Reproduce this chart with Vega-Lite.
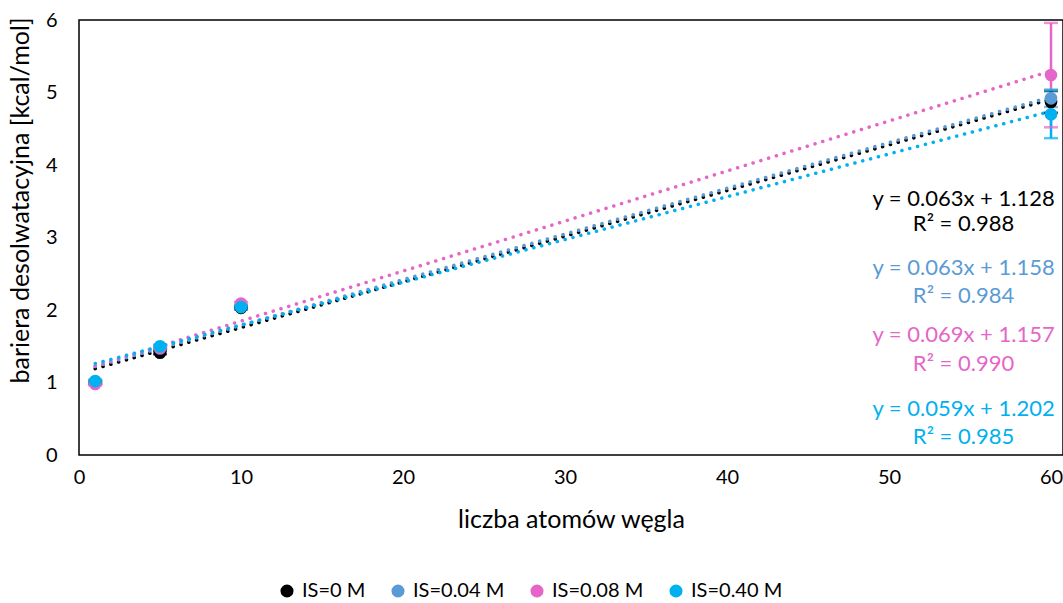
{
  "$schema": "https://vega.github.io/schema/vega-lite/v6.json",
  "width": 984,
  "height": 435,
  "autosize": {"type": "none"},
  "padding": {"left": 79, "top": 20, "right": 0, "bottom": 148},
  "background": "white",
  "config": {
    "view": {"stroke": "#000000", "strokeWidth": 1.5},
    "font": "Lato",
    "axis": {"grid": false, "ticks": false, "domain": false, "labelFont": "Lato", "titleFont": "Lato", "labelColor": "#000000", "titleColor": "#000000", "titleFontWeight": "normal"},
    "legend": {"labelFont": "Lato", "labelColor": "#000000"}
  },
  "datasets": {
    "pts": [
      {"series": "IS=0 M", "x": 1, "y": 1.0, "lo": 0.98, "hi": 1.02},
      {"series": "IS=0 M", "x": 5, "y": 1.41, "lo": 1.39, "hi": 1.43},
      {"series": "IS=0 M", "x": 10, "y": 2.03, "lo": 2.01, "hi": 2.05},
      {"series": "IS=0 M", "x": 60, "y": 4.87, "lo": 4.72, "hi": 5.02},
      {"series": "IS=0.04 M", "x": 1, "y": 1.0, "lo": 0.98, "hi": 1.02},
      {"series": "IS=0.04 M", "x": 5, "y": 1.47, "lo": 1.45, "hi": 1.49},
      {"series": "IS=0.04 M", "x": 10, "y": 2.05, "lo": 2.03, "hi": 2.07},
      {"series": "IS=0.04 M", "x": 60, "y": 4.92, "lo": 4.8, "hi": 5.04},
      {"series": "IS=0.08 M", "x": 1, "y": 0.98, "lo": 0.96, "hi": 1.0},
      {"series": "IS=0.08 M", "x": 5, "y": 1.48, "lo": 1.46, "hi": 1.5},
      {"series": "IS=0.08 M", "x": 10, "y": 2.09, "lo": 2.07, "hi": 2.11},
      {"series": "IS=0.08 M", "x": 60, "y": 5.24, "lo": 4.52, "hi": 5.96},
      {"series": "IS=0.40 M", "x": 1, "y": 1.02, "lo": 1.0, "hi": 1.04},
      {"series": "IS=0.40 M", "x": 5, "y": 1.5, "lo": 1.48, "hi": 1.52},
      {"series": "IS=0.40 M", "x": 10, "y": 2.04, "lo": 2.02, "hi": 2.06},
      {"series": "IS=0.40 M", "x": 60, "y": 4.7, "lo": 4.37, "hi": 5.03}
    ],
    "trend": [
      {"series": "IS=0 M", "x": 1, "y": 1.191},
      {"series": "IS=0 M", "x": 60, "y": 4.908},
      {"series": "IS=0.04 M", "x": 1, "y": 1.221},
      {"series": "IS=0.04 M", "x": 60, "y": 4.938},
      {"series": "IS=0.08 M", "x": 1, "y": 1.226},
      {"series": "IS=0.08 M", "x": 60, "y": 5.297},
      {"series": "IS=0.40 M", "x": 1, "y": 1.261},
      {"series": "IS=0.40 M", "x": 60, "y": 4.742}
    ],
    "labels": [
      {"series": "IS=0 M", "text": "y = 0.063x + 1.128", "x": 54.6, "y": 3.53},
      {"series": "IS=0 M", "text": "R² = 0.988", "x": 54.6, "y": 3.19},
      {"series": "IS=0.04 M", "text": "y = 0.063x + 1.158", "x": 54.6, "y": 2.58},
      {"series": "IS=0.04 M", "text": "R² = 0.984", "x": 54.6, "y": 2.19},
      {"series": "IS=0.08 M", "text": "y = 0.069x + 1.157", "x": 54.6, "y": 1.655},
      {"series": "IS=0.08 M", "text": "R² = 0.990", "x": 54.6, "y": 1.255},
      {"series": "IS=0.40 M", "text": "y = 0.059x + 1.202", "x": 54.6, "y": 0.634},
      {"series": "IS=0.40 M", "text": "R² = 0.985", "x": 54.6, "y": 0.248}
    ]
  },
  "layer": [
    {
      "data": {"name": "trend"},
      "mark": {"type": "line", "strokeWidth": 3.5, "strokeCap": "round", "strokeDash": [0.1, 8], "clip": true},
      "encoding": {
        "x": {"field": "x", "type": "quantitative", "scale": {"domain": [0, 60.74], "nice": false, "zero": false},
          "axis": {"values": [0, 10, 20, 30, 40, 50, 60], "format": "d", "labelFontSize": 20, "labelPadding": 12, "title": "liczba atomów węgla", "titleFontSize": 25, "titlePadding": 20, "labelFlush": false}},
        "y": {"field": "y", "type": "quantitative", "scale": {"domain": [0, 6], "nice": false},
          "axis": {"values": [0, 1, 2, 3, 4, 5, 6], "format": "d", "labelFontSize": 20, "labelPadding": 22, "title": "bariera desolwatacyjna [kcal/mol]", "titleFontSize": 25, "titlePadding": 12, "titleY": 180, "labelFlush": false}},
        "color": {"field": "series", "type": "nominal",
          "scale": {"domain": ["IS=0 M", "IS=0.04 M", "IS=0.08 M", "IS=0.40 M"], "range": ["#000000", "#5B9BD5", "#E566C8", "#00B0F0"]},
          "legend": {"orient": "none", "legendX": 198, "legendY": 561, "direction": "horizontal", "title": null, "labelFontSize": 20, "symbolSize": 170, "symbolType": "circle", "columnPadding": 22, "symbolStrokeWidth": 0, "labelOffset": 5,
            "symbolDash": [], "symbolStrokeColor": "transparent",
            "encode": {"symbols": {"update": {"fill": {"scale": "color", "field": "value"}, "fillOpacity": {"value": 1}, "strokeDash": {"value": []}}}}}},
        "detail": {"field": "series"}
      }
    },
    {
      "data": {"name": "pts"},
      "mark": {"type": "rule", "strokeWidth": 2.5},
      "encoding": {
        "x": {"field": "x", "type": "quantitative"},
        "y": {"field": "lo", "type": "quantitative"},
        "y2": {"field": "hi"},
        "color": {"field": "series", "type": "nominal"}
      }
    },
    {
      "data": {"name": "pts"},
      "mark": {"type": "tick", "orient": "horizontal", "size": 14, "thickness": 2.5},
      "encoding": {
        "x": {"field": "x", "type": "quantitative"},
        "y": {"field": "lo", "type": "quantitative"},
        "color": {"field": "series", "type": "nominal"}
      }
    },
    {
      "data": {"name": "pts"},
      "mark": {"type": "tick", "orient": "horizontal", "size": 14, "thickness": 2.5},
      "encoding": {
        "x": {"field": "x", "type": "quantitative"},
        "y": {"field": "hi", "type": "quantitative"},
        "color": {"field": "series", "type": "nominal"}
      }
    },
    {
      "data": {"name": "pts"},
      "mark": {"type": "point", "shape": "circle", "filled": true, "size": 160, "opacity": 1},
      "encoding": {
        "x": {"field": "x", "type": "quantitative"},
        "y": {"field": "y", "type": "quantitative"},
        "color": {"field": "series", "type": "nominal"}
      }
    },
    {
      "data": {"name": "labels"},
      "mark": {"type": "text", "fontSize": 22, "align": "center", "baseline": "middle"},
      "encoding": {
        "x": {"field": "x", "type": "quantitative"},
        "y": {"field": "y", "type": "quantitative"},
        "text": {"field": "text"},
        "color": {"field": "series", "type": "nominal"}
      }
    }
  ]
}
